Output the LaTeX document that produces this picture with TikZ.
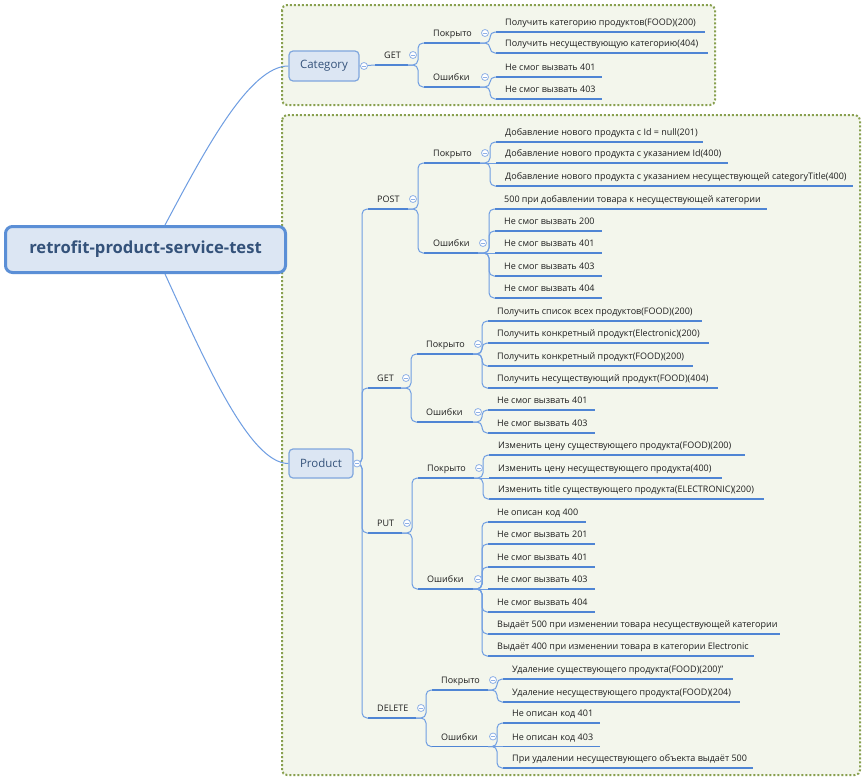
\documentclass[tikz,border=0pt]{standalone}
\usepackage{fontspec}
\setmainfont{Open Sans}
\usetikzlibrary{calc}
\definecolor{ulc}{HTML}{4F85D4}
\definecolor{cnc}{HTML}{6E9DE2}
\definecolor{boxfill}{HTML}{DCE6F3}
\definecolor{boxdraw}{HTML}{7FA6DE}
\definecolor{rootdraw}{HTML}{5B8FD6}
\definecolor{grpfill}{HTML}{F3F6EC}
\definecolor{grpdraw}{HTML}{88A04F}
\definecolor{txt}{HTML}{1E1E1E}
\definecolor{boxtxt}{HTML}{34527A}
\definecolor{collc}{HTML}{8FB1E6}
\newcommand\topicU[5]{%
  \coordinate (#1-s) at (#2,#4);
  \coordinate (#1-e) at (#3,#4);
  \node[tptext, anchor=base west] (#1) at (#2+9,#4-6.5) {#5};
  \draw[uline] (#1-s) -- (#1-e);}
\newcommand\cnC[2]{\draw[conn] (#1-e) -- ($(#1-e -| #2-s)+(-6,0)$) |- (#2-s);}
\newcommand\cnS[2]{\draw[conn] (#1-e) -- (#2-s);}
\newcommand\coll[1]{\node[collapse] (#1-c) at ($(#1-e)+(5,-10)$) {};}
\begin{document}
\begin{tikzpicture}[x=1pt,y=-1pt,
  tptext/.style={inner sep=0pt, font=\fontsize{9}{10.5}\selectfont, text=txt},
  uline/.style={draw=ulc, line width=1.8pt},
  conn/.style={draw=cnc, line width=1pt, rounded corners=5pt},
  grp/.style={draw=grpdraw, fill=grpfill, line width=2pt, dash pattern=on 2pt off 2pt, rounded corners=5pt},
  bx/.style={draw=boxdraw, fill=boxfill, line width=1.2pt, rounded corners=4pt, inner sep=0pt, text=boxtxt, font=\fontsize{11.5}{13}\selectfont},
  collapse/.style={circle, draw=collc, fill=white, minimum size=7pt, inner sep=0pt, line width=0.8pt,
    path picture={\draw[collc, line width=0.8pt] ([xshift=-2pt]path picture bounding box.center) -- ([xshift=2pt]path picture bounding box.center);}}]
\useasboundingbox (0,0) rectangle (865,779);
\fill[white] (0,0) rectangle (865,779);
% groups
\draw[grp] (282,5) rectangle (715,105);
\draw[grp] (282,115) rectangle (860,775);
% root and main boxes
\node[draw=rootdraw, fill=boxfill, line width=3pt, rounded corners=7pt, minimum width=280pt, minimum height=46pt, inner sep=0pt,
  text=boxtxt, font=\fontsize{16.6}{19}\selectfont\bfseries] (root) at (145.5,249.5) {retrofit-product-service-test};
\node[bx, minimum width=70pt, minimum height=30pt] (cat) at (324,66) {Category};
\node[bx, minimum width=64pt, minimum height=29pt] (prod) at (321,463.5) {Product};
\draw[conn] ([xshift=19.5pt]root.north) .. controls +(40,-75) and +(-39,0) .. (cat.west);
\draw[conn] ([xshift=19.5pt]root.south) .. controls +(40,87) and +(-39,0) .. (prod.west);
% ---------- Category ----------
\topicU{cg}{375}{408}{65}{GET}
\topicU{cp}{424}{480}{43}{Покрыто}
\topicU{ce}{424}{480}{87}{Ошибки}
\topicU{cpa}{496}{705}{32}{Получить категорию продуктов(FOOD)(200)}
\topicU{cpb}{496}{708}{53}{Получить несуществующую категорию(404)}
\topicU{cea}{496}{602}{77}{Не смог вызвать 401}
\topicU{ceb}{496}{602}{99}{Не смог вызвать 403}
\draw[conn] (cat.east) -- (cg-s);
\cnC{cg}{cp}\cnC{cg}{ce}
\cnC{cp}{cpa}\cnC{cp}{cpb}
\cnC{ce}{cea}\cnC{ce}{ceb}
% ---------- Product ----------
\topicU{po}{368}{408}{209}{POST}
\topicU{ge}{368}{401}{388}{GET}
\topicU{pu}{368}{402}{533}{PUT}
\topicU{de}{368}{416}{718}{DELETE}
\foreach \k in {po,ge,pu,de}{\draw[conn] (prod.east) -- ($(prod.east -| \k-s)+(-6,0)$) |- (\k-s);}
% POST
\topicU{pop}{424}{480}{163}{Покрыто}
\topicU{poe}{424}{478}{253}{Ошибки}
\topicU{popa}{496}{703}{142}{Добавление нового продукта с Id = null(201)}
\topicU{popb}{496}{728}{163}{Добавление нового продукта с указанием Id(400)}
\topicU{popc}{496}{853}{186}{Добавление нового продукта с указанием несуществующей categoryTitle(400)}
\topicU{poea}{495}{767}{209}{500 при добавлении товара к несуществующей категории}
\topicU{poeb}{495}{602}{231}{Не смог вызвать 200}
\topicU{poec}{495}{602}{253}{Не смог вызвать 401}
\topicU{poed}{495}{602}{276}{Не смог вызвать 403}
\topicU{poee}{495}{602}{298}{Не смог вызвать 404}
\cnC{po}{pop}\cnC{po}{poe}
\cnC{pop}{popa}\cnS{pop}{popb}\cnC{pop}{popc}
\cnC{poe}{poea}\cnC{poe}{poeb}\cnS{poe}{poec}\cnC{poe}{poed}\cnC{poe}{poee}
% GET
\topicU{gep}{417}{473}{354}{Покрыто}
\topicU{gee}{417}{473}{422}{Ошибки}
\topicU{gepa}{488}{702}{321}{Получить список всех продуктов(FOOD)(200)}
\topicU{gepb}{488}{709}{343}{Получить конкретный продукт(Electronic)(200)}
\topicU{gepc}{488}{693}{366}{Получить конкретный продукт(FOOD)(200)}
\topicU{gepd}{488}{718}{388}{Получить несуществующий продукт(FOOD)(404)}
\topicU{geea}{488}{595}{410}{Не смог вызвать 401}
\topicU{geeb}{488}{595}{433}{Не смог вызвать 403}
\cnC{ge}{gep}\cnC{ge}{gee}
\cnC{gep}{gepa}\cnC{gep}{gepb}\cnC{gep}{gepc}\cnC{gep}{gepd}
\cnC{gee}{geea}\cnC{gee}{geeb}
% PUT
\topicU{pup}{418}{474}{478}{Покрыто}
\topicU{pue}{418}{473}{589}{Ошибки}
\topicU{pupa}{489}{745}{455}{Изменить цену существующего продукта(FOOD)(200)}
\topicU{pupb}{489}{722}{478}{Изменить цену несуществующего продукта(400)}
\topicU{pupc}{489}{764}{499}{Изменить title существующего продукта(ELECTRONIC)(200)}
\topicU{puea}{488}{586}{522}{Не описан код 400}
\topicU{pueb}{488}{595}{544}{Не смог вызвать 201}
\topicU{puec}{488}{595}{567}{Не смог вызвать 401}
\topicU{pued}{488}{595}{589}{Не смог вызвать 403}
\topicU{puee}{488}{595}{612}{Не смог вызвать 404}
\topicU{puef}{488}{780}{634}{Выдаёт 500 при изменении товара несуществующей категории}
\topicU{pueg}{488}{754}{656}{Выдаёт 400 при изменении товара в категории Electronic}
\cnC{pu}{pup}\cnC{pu}{pue}
\cnC{pup}{pupa}\cnS{pup}{pupb}\cnC{pup}{pupc}
\cnC{pue}{puea}\cnC{pue}{pueb}\cnC{pue}{puec}\cnS{pue}{pued}\cnC{pue}{puee}\cnC{pue}{puef}\cnC{pue}{pueg}
% DELETE
\topicU{dep}{432}{488}{690}{Покрыто}
\topicU{dee}{432}{488}{746.5}{Ошибки}
\topicU{depa}{503}{733}{679}{Удаление существующего продукта(FOOD)(200)"}
\topicU{depb}{503}{740}{702}{Удаление несуществующего продукта(FOOD)(204)}
\topicU{deea}{503}{600}{723}{Не описан код 401}
\topicU{deeb}{503}{600}{746.5}{Не описан код 403}
\topicU{deec}{503}{753}{768}{При удалении несуществующего объекта выдаёт 500}
\cnC{de}{dep}\cnC{de}{dee}
\cnC{dep}{depa}\cnC{dep}{depb}
\cnC{dee}{deea}\cnS{dee}{deeb}\cnC{dee}{deec}
% collapse markers
\node[collapse] (cat-c) at (364,66) {};
\node[collapse] (prod-c) at (357,463.5) {};
\foreach \k in {cg,cp,ce,po,ge,pu,de,pop,poe,gep,gee,pup,pue,dep,dee}{\coll{\k}}
\end{tikzpicture}
\end{document}
